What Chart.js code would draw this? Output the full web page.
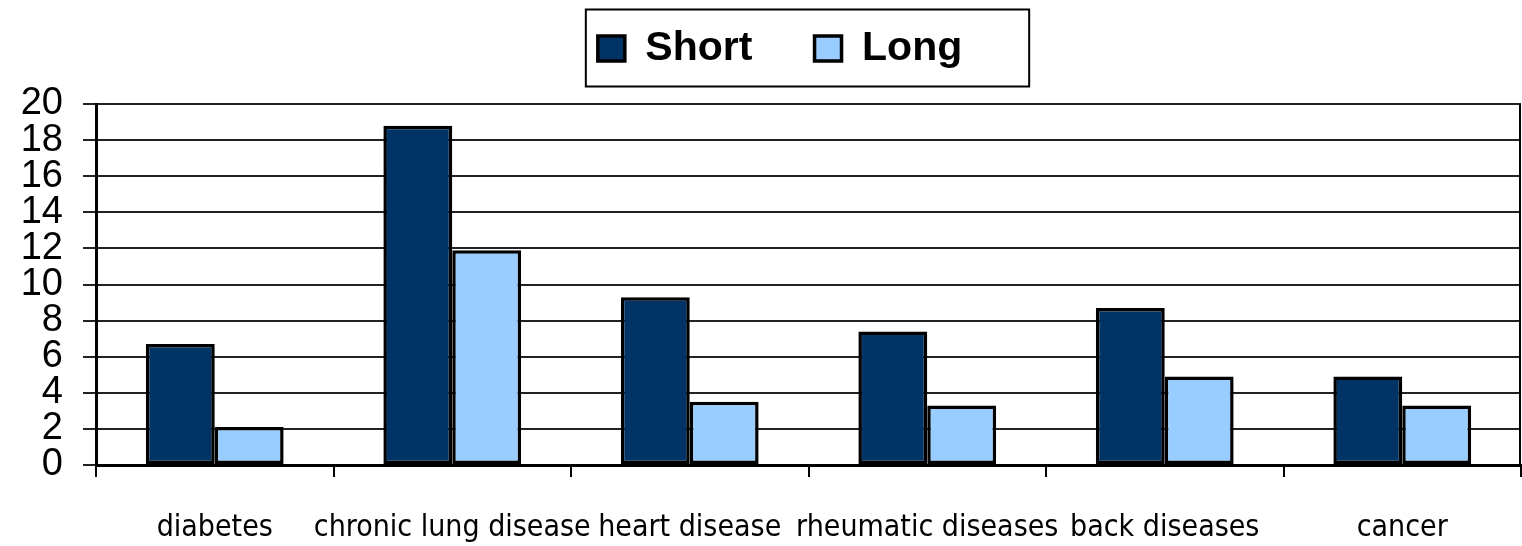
<!DOCTYPE html>
<html lang="en">
<head>
<meta charset="UTF-8">
<title>Short vs Long</title>
<script src="https://cdn.jsdelivr.net/npm/chart.js"></script>
<style>
  html, body { margin: 0; padding: 0; background: #fff; }
</style>
</head>
<body>
<canvas id="myChart" width="1522" height="546"></canvas>
<script>
const categories = ["diabetes", "chronic lung disease", "heart disease", "rheumatic diseases", "back diseases", "cancer"];
const shortValues = [6.7, 18.8, 9.3, 7.4, 8.7, 4.9];
const longValues = [2.1, 11.9, 3.5, 3.3, 4.9, 3.3];
const yTicks = [0, 2, 4, 6, 8, 10, 12, 14, 16, 18, 20];

// draws the frame round the legend and the right edge of the plot
const framePlugin = {
    id: "frame",
    afterDraw(chart) {
        const ctx = chart.ctx;
        const area = chart.chartArea;
        ctx.save();
        ctx.strokeStyle = "#000";
        ctx.lineWidth = 2;
        ctx.beginPath();
        ctx.moveTo(area.right - 1, area.top);
        ctx.lineTo(area.right - 1, area.bottom);
        ctx.stroke();

        const boxes = chart.legend.legendHitBoxes;
        if (boxes && boxes.length) {
            const left = Math.min(...boxes.map(b => b.left)) - 12;
            const right = Math.max(...boxes.map(b => b.left + b.width)) + 10;
            const mid = boxes[0].top + boxes[0].height / 2;
            ctx.strokeRect(left, mid - 39, right - left, 77);
        }
        ctx.restore();
    }
};

const ctx = document.getElementById("myChart").getContext("2d");
new Chart(ctx, {
    type: "bar",
    data: {
        labels: categories,
        datasets: [{
            label: "Short",
            data: shortValues,
            backgroundColor: "#003366",
            borderColor: "#000",
            borderWidth: 3.5,
            borderSkipped: false
        }, {
            label: "Long",
            data: longValues,
            backgroundColor: "#99ccff",
            borderColor: "#000",
            borderWidth: 3.5,
            borderSkipped: false
        }]
    },
    options: {
        responsive: false,
        animation: false,
        layout: { padding: { top: 0, right: 1, left: 0, bottom: 0 } },
        datasets: {
            bar: { barPercentage: 1.0, categoryPercentage: 0.58 }
        },
        plugins: {
            legend: {
                position: "top",
                fullSize: false,
                labels: {
                    color: "#000",
                    boxWidth: 27,
                    boxHeight: 25,
                    padding: 28,
                    font: { family: "Liberation Sans, Arial", size: 41, weight: "bold" },
                    generateLabels(chart) {
                        const items = Chart.defaults.plugins.legend.labels.generateLabels(chart);
                        items[0].text = items[0].text + "   ";
                        items[1].text = items[1].text + "     ";
                        return items;
                    }
                }
            },
            // empty spacer between legend and plot
            title: {
                display: true,
                fullSize: false,
                text: "",
                weight: 500,
                font: { size: 10 },
                padding: { top: 0, bottom: 13 }
            },
            tooltip: { enabled: false }
        },
        scales: {
            y: {
                min: 0,
                max: 20,
                afterFit(scale) { scale.width = 96; },
                afterBuildTicks(scale) { scale.ticks = yTicks.map(v => ({ value: v })); },
                ticks: {
                    autoSkip: false,
                    color: "#000",
                    padding: 20,
                    font: { family: "Liberation Sans, Arial", size: 38 }
                },
                grid: { color: "#222", lineWidth: 2, tickLength: 13 },
                border: { color: "#000", width: 3 }
            },
            x: {
                afterFit(scale) { scale.height = 81; },
                ticks: {
                    autoSkip: false,
                    maxRotation: 0,
                    color: "#000",
                    padding: 33,
                    font: { family: "Liberation Sans Narrow, DejaVu Sans Condensed, Arial", size: 30 }
                },
                grid: { drawOnChartArea: false, color: "#000", lineWidth: 2, tickLength: 12 },
                border: { color: "#000", width: 3 }
            }
        }
    },
    plugins: [framePlugin]
});
</script>
</body>
</html>
